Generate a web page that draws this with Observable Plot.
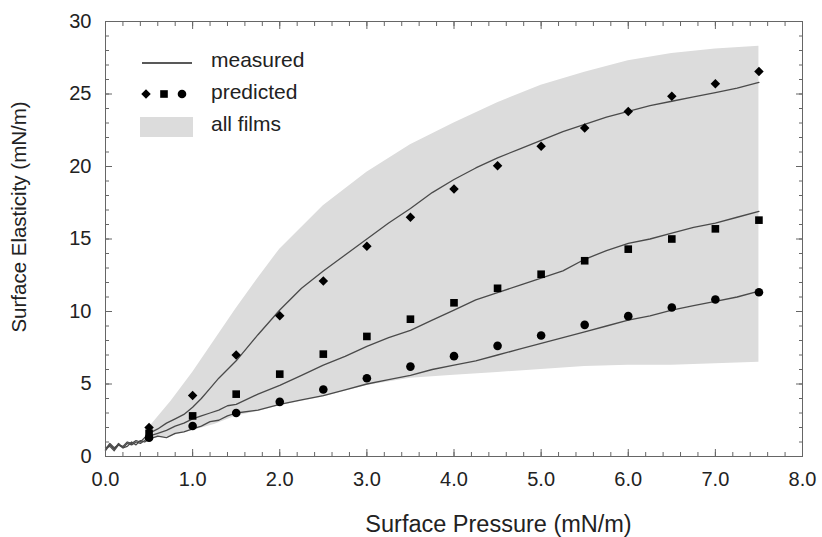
<!DOCTYPE html>
<html>
<head>
<meta charset="utf-8">
<script src="https://cdn.jsdelivr.net/npm/d3@7"></script>
<script src="https://cdn.jsdelivr.net/npm/@observablehq/plot@0.6"></script>
<style>
  html, body { margin: 0; padding: 0; background: #fff; }
  #wrap { position: relative; width: 822px; height: 537px; font-family: "Liberation Sans", Arial, sans-serif; }
  #legend { position: absolute; left: 0; top: 0; pointer-events: none; }
</style>
</head>
<body>
<div id="wrap"></div>
<script>
// ---- data ----
const xTicks = [0, 1, 2, 3, 4, 5, 6, 7, 8];
const yTicks = [0, 5, 10, 15, 20, 25, 30];
const xMinor = d3.range(0, 8.001, 0.2);
const yMinor = d3.range(0, 30.001, 1);

// measured curves (shared x)
const mx = [0, 0.05, 0.1, 0.15, 0.2, 0.25, 0.3, 0.35, 0.4, 0.45, 0.5, 0.6, 0.7, 0.8, 0.9, 1.0, 1.1, 1.2, 1.3, 1.4, 1.5, 1.75, 2.0, 2.25, 2.5, 2.75, 3.0, 3.25, 3.5, 3.75, 4.0, 4.25, 4.5, 4.75, 5.0, 5.25, 5.5, 5.75, 6.0, 6.25, 6.5, 6.75, 7.0, 7.25, 7.5];
const measuredA = [0.5, 0.9, 0.6, 0.8, 0.7, 1.0, 0.9, 1.1, 1.0, 1.3, 1.6, 1.9, 2.3, 2.6, 2.9, 3.4, 4.0, 4.7, 5.4, 6.0, 6.6, 8.4, 10.1, 11.6, 12.8, 13.9, 15.0, 16.1, 17.1, 18.2, 19.1, 19.9, 20.6, 21.2, 21.8, 22.4, 22.9, 23.4, 23.8, 24.2, 24.5, 24.8, 25.1, 25.4, 25.8];
const measuredB = [0.4, 0.8, 0.5, 0.9, 0.6, 0.9, 0.8, 1.0, 0.9, 1.1, 1.4, 1.6, 1.8, 2.1, 2.3, 2.6, 2.8, 3.0, 3.2, 3.5, 3.6, 4.3, 4.9, 5.6, 6.3, 6.9, 7.6, 8.2, 8.7, 9.4, 10.1, 10.8, 11.3, 11.8, 12.3, 12.8, 13.6, 14.2, 14.7, 15.0, 15.4, 15.8, 16.1, 16.5, 16.9];
const measuredC = [0.6, 0.7, 0.4, 0.8, 0.6, 0.7, 1.0, 0.8, 1.1, 1.0, 1.2, 1.4, 1.3, 1.6, 1.7, 1.9, 2.1, 2.4, 2.5, 2.8, 3.0, 3.2, 3.6, 3.9, 4.2, 4.6, 5.0, 5.3, 5.6, 6.0, 6.3, 6.6, 7.0, 7.4, 7.8, 8.2, 8.6, 9.0, 9.4, 9.7, 10.1, 10.4, 10.7, 11.0, 11.4];

// predicted points
const px = [0.5, 1.0, 1.5, 2.0, 2.5, 3.0, 3.5, 4.0, 4.5, 5.0, 5.5, 6.0, 6.5, 7.0, 7.5];
const predDiamond = [2.0, 4.2, 7.0, 9.7, 12.1, 14.5, 16.5, 18.45, 20.05, 21.4, 22.65, 23.8, 24.85, 25.7, 26.55];
const predSquare  = [1.6, 2.8, 4.3, 5.68, 7.06, 8.28, 9.47, 10.6, 11.6, 12.57, 13.5, 14.3, 15.0, 15.7, 16.3];
const predCircle  = [1.3, 2.1, 3.0, 3.77, 4.62, 5.4, 6.2, 6.92, 7.63, 8.34, 9.08, 9.68, 10.28, 10.83, 11.33];

// "all films" envelope
const bandX     = [0.5, 0.75, 1.0, 1.25, 1.5, 1.75, 2.0, 2.5, 3.0, 3.5, 4.0, 4.5, 5.0, 5.5, 6.0, 6.5, 7.0, 7.5];
const bandUpper = [2.0, 3.8, 5.8, 8.0, 10.2, 12.3, 14.3, 17.3, 19.6, 21.5, 23.0, 24.4, 25.6, 26.5, 27.3, 27.8, 28.1, 28.3];
const bandLower = [1.2, 1.4, 1.8, 2.2, 2.8, 3.1, 3.5, 4.1, 4.9, 5.4, 5.6, 5.8, 6.0, 6.2, 6.3, 6.3, 6.4, 6.5];

const legendItems = ["measured", "predicted", "all films"];

// ---- tables ----
const measured = mx.map((x, i) => ({x, a: measuredA[i], b: measuredB[i], c: measuredC[i]}));
const predicted = px.map((x, i) => ({x, d: predDiamond[i], s: predSquare[i], c: predCircle[i]}));
const band = bandX.map((x, i) => ({x, lo: bandLower[i], hi: bandUpper[i]}));

const FONT = "Liberation Sans, Arial, Helvetica, sans-serif";
const axisCol = "#666";
const lineCol = "#4a4a4a";

const chart = Plot.plot({
  width: 822,
  height: 537,
  marginLeft: 105,
  marginRight: 20,
  marginTop: 21,
  marginBottom: 81,
  style: {fontFamily: FONT, fontSize: "20px", color: "#222", background: "#fff"},
  x: {domain: [0, 8]},
  y: {domain: [0, 30]},
  marks: [
    Plot.areaY(band, {x: "x", y1: "lo", y2: "hi", fill: "#dcdcdc"}),
    Plot.line(measured, {x: "x", y: "a", stroke: lineCol, strokeWidth: 1.3}),
    Plot.line(measured, {x: "x", y: "b", stroke: lineCol, strokeWidth: 1.3}),
    Plot.line(measured, {x: "x", y: "c", stroke: lineCol, strokeWidth: 1.3}),
    Plot.dot(predicted, {x: "x", y: "d", symbol: "diamond2", r: 4.3, fill: "#000", stroke: "none"}),
    Plot.dot(predicted, {x: "x", y: "s", symbol: "square", r: 4.3, fill: "#000", stroke: "none"}),
    Plot.dot(predicted, {x: "x", y: "c", symbol: "circle", r: 4.3, fill: "#000", stroke: "none"}),
    Plot.frame({stroke: axisCol, strokeWidth: 1}),
    // bottom axis
    Plot.axisX({anchor: "bottom", ticks: xMinor, tickSize: -4, tickFormat: () => "", label: null, stroke: axisCol}),
    Plot.axisX({anchor: "bottom", ticks: xTicks, tickSize: -7, tickPadding: 22, tickFormat: d => d.toFixed(1), label: null, stroke: axisCol, fontSize: 20, fill: "#222"}),
    // top axis
    Plot.axisX({anchor: "top", ticks: xMinor, tickSize: -4, tickFormat: () => "", label: null, stroke: axisCol}),
    Plot.axisX({anchor: "top", ticks: xTicks, tickSize: -7, tickFormat: () => "", label: null, stroke: axisCol}),
    // left axis
    Plot.axisY({anchor: "left", ticks: yMinor, tickSize: -4, tickFormat: () => "", label: null, stroke: axisCol}),
    Plot.axisY({anchor: "left", ticks: yTicks, tickSize: -7, tickPadding: 21, tickFormat: d => String(d), label: null, stroke: axisCol, fontSize: 20, fill: "#222"}),
    // right axis
    Plot.axisY({anchor: "right", ticks: yMinor, tickSize: -4, tickFormat: () => "", label: null, stroke: axisCol}),
    Plot.axisY({anchor: "right", ticks: yTicks, tickSize: -7, tickFormat: () => "", label: null, stroke: axisCol}),
    // axis titles
    Plot.text(["Surface Pressure (mN/m)"], {text: d => d, frameAnchor: "bottom", textAnchor: "middle", lineAnchor: "bottom", dx: 44.5, dy: 75, fontSize: 23.5, fill: "#222"}),
    Plot.text(["Surface Elasticity (mN/m)"], {text: d => d, frameAnchor: "left", textAnchor: "middle", lineAnchor: "bottom", rotate: -90, dx: -80, dy: -22, fontSize: 20.5, fill: "#222"})
  ]
});

const wrap = document.getElementById("wrap");
wrap.appendChild(chart);

// ---- legend overlay ----
const ns = "http://www.w3.org/2000/svg";
const lg = document.createElementNS(ns, "svg");
lg.setAttribute("id", "legend");
lg.setAttribute("width", 822);
lg.setAttribute("height", 537);
function el(tag, attrs, text) {
  const e = document.createElementNS(ns, tag);
  for (const k in attrs) e.setAttribute(k, attrs[k]);
  if (text != null) e.textContent = text;
  lg.appendChild(e);
  return e;
}
el("line", {x1: 142, x2: 192, y1: 63, y2: 63, stroke: "#222", "stroke-width": 1.4});
el("path", {d: d3.symbol(d3.symbolDiamond2, Math.PI * 4.3 * 4.3)(), transform: "translate(146,94)", fill: "#000"});
el("path", {d: d3.symbol(d3.symbolSquare, Math.PI * 4.3 * 4.3)(), transform: "translate(164,94)", fill: "#000"});
el("circle", {cx: 182, cy: 94, r: 4.3, fill: "#000"});
el("rect", {x: 140, y: 117, width: 53, height: 20, fill: "#dcdcdc"});
const ys = [67, 99, 131];
legendItems.forEach((t, i) => el("text", {x: 211, y: ys[i], "font-size": 21, "font-family": FONT, fill: "#222"}, t));
wrap.appendChild(lg);
</script>
</body>
</html>
